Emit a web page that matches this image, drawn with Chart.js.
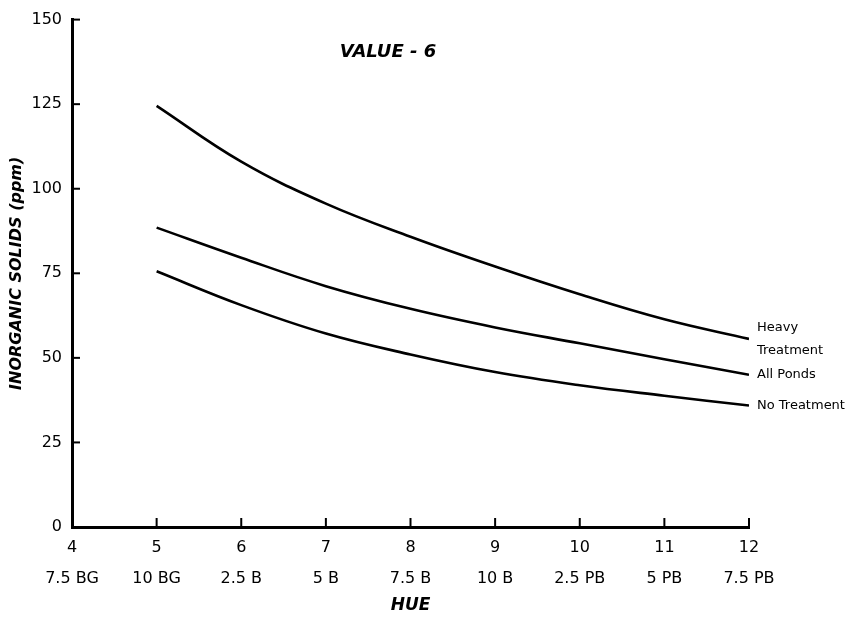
<!DOCTYPE html>
<html lang="en">
<head>
    <meta charset="UTF-8">
    <title>Value 6 - Inorganic solids by hue</title>
    <script src="https://cdn.jsdelivr.net/npm/chart.js"></script>
    <style>
        html, body { margin: 0; padding: 0; background: #fff; }
        .box { width: 851px; height: 620px; }
    </style>
</head>
<body>
    <div class="box">
        <canvas id="canvas_hue"></canvas>
    </div>
<script>
    // data
    const hueNumbers = [4, 5, 6, 7, 8, 9, 10, 11, 12];
    const hueNames = ['7.5 BG', '10 BG', '2.5 B', '5 B', '7.5 B', '10 B', '2.5 PB', '5 PB', '7.5 PB'];
    const solidTicks = [0, 25, 50, 75, 100, 125, 150];

    const hueX = [5, 6, 7, 8, 9, 10, 11, 12];
    const heavyTreatment = [124.5, 108.0, 95.6, 85.8, 77.0, 68.8, 61.4, 55.6];
    const allPonds = [88.5, 79.6, 71.2, 64.5, 59.0, 54.3, 49.6, 45.0];
    const noTreatment = [75.6, 65.6, 57.2, 51.0, 45.8, 41.9, 38.8, 35.9];

    const seriesNames = [['Heavy', 'Treatment'], ['All Ponds'], ['No Treatment']];

    const fonte = "'DejaVu Sans', Verdana, sans-serif";

    function pontos(valores) {
        let lista = [];
        for (let i = 0; i < hueX.length; i++) {
            lista.push({ x: hueX[i], y: valores[i] });
        }
        return lista;
    }

    function linha(valores) {
        return {
            data: pontos(valores),
            borderColor: '#000',
            borderWidth: 2.6,
            pointRadius: 0,
            fill: false,
            tension: 0.4
        };
    }

    // inward ticks, title and end labels
    const extras = {
        id: 'extras',
        afterDraw(chart) {
            const ctx = chart.ctx;
            const xs = chart.scales.x;
            const ys = chart.scales.y;
            const area = chart.chartArea;
            ctx.save();
            ctx.strokeStyle = '#000';
            ctx.lineWidth = 2;
            solidTicks.forEach(function (v) {
                const py = ys.getPixelForValue(v);
                ctx.beginPath();
                ctx.moveTo(area.left, py);
                ctx.lineTo(area.left + 8, py);
                ctx.stroke();
            });
            hueNumbers.forEach(function (v) {
                const px = xs.getPixelForValue(v);
                ctx.beginPath();
                ctx.moveTo(px, area.bottom);
                ctx.lineTo(px, area.bottom - 9);
                ctx.stroke();
            });

            ctx.fillStyle = '#000';
            ctx.font = 'italic bold 18px ' + fonte;
            ctx.textAlign = 'center';
            ctx.textBaseline = 'middle';
            ctx.fillText('VALUE - 6', 388, 52);

            ctx.font = '13px ' + fonte;
            ctx.textAlign = 'left';
            chart.data.datasets.forEach(function (ds, i) {
                const meta = chart.getDatasetMeta(i);
                const ult = meta.data[meta.data.length - 1];
                const nomes = seriesNames[i];
                const y0 = ult.y - (nomes.length - 1) * 11.5;
                nomes.forEach(function (t, k) {
                    ctx.fillText(t, ult.x + 8, y0 + k * 23);
                });
            });
            ctx.restore();
        }
    };

    new Chart(document.getElementById('canvas_hue'), {
        type: 'line',
        data: {
            datasets: [linha(heavyTreatment), linha(allPonds), linha(noTreatment)]
        },
        options: {
            responsive: true,
            maintainAspectRatio: false,
            animation: false,
            layout: { padding: { top: 10, right: 102, left: 0, bottom: 0 } },
            plugins: {
                legend: { display: false },
                tooltip: { enabled: false }
            },
            scales: {
                x: {
                    type: 'linear',
                    min: 4,
                    max: 12,
                    afterFit(scale) { scale.height = 93; },
                    afterBuildTicks(scale) {
                        scale.ticks = hueNumbers.map(function (v) { return { value: v }; });
                    },
                    grid: { display: false, drawTicks: false },
                    border: { display: true, color: '#000', width: 3 },
                    ticks: {
                        color: '#000',
                        padding: 5,
                        maxRotation: 0,
                        autoSkip: false,
                        font: { family: fonte, size: 16, lineHeight: 1.95 },
                        callback: function (v) {
                            const i = hueNumbers.indexOf(v);
                            return [String(v), hueNames[i]];
                        }
                    },
                    title: {
                        display: true,
                        text: 'HUE',
                        color: '#000',
                        font: { family: fonte, size: 17, weight: 'bold', style: 'italic' },
                        padding: { top: 0, bottom: 4 }
                    }
                },
                y: {
                    min: 0,
                    max: 150,
                    afterFit(scale) { scale.width = 72; },
                    afterBuildTicks(scale) {
                        scale.ticks = solidTicks.map(function (v) { return { value: v }; });
                    },
                    grid: { display: false, drawTicks: false },
                    border: { display: true, color: '#000', width: 3 },
                    ticks: {
                        color: '#000',
                        padding: 10,
                        font: { family: fonte, size: 16 }
                    },
                    title: {
                        display: true,
                        text: 'INORGANIC SOLIDS (ppm)',
                        color: '#000',
                        font: { family: fonte, size: 16, weight: 'bold', style: 'italic' },
                        padding: { top: 7, bottom: 0 }
                    }
                }
            }
        },
        plugins: [extras]
    });
</script>
</body>
</html>
